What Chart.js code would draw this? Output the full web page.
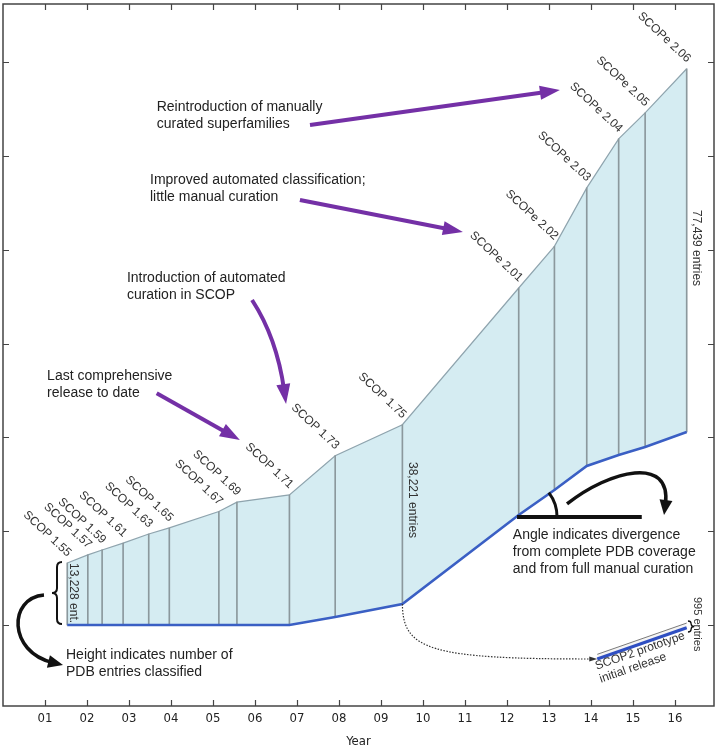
<!DOCTYPE html>
<html>
<head>
<meta charset="utf-8">
<script src="https://cdn.jsdelivr.net/npm/chart.js@4.4.0/dist/chart.umd.min.js"></script>
<style>
  html, body { margin: 0; padding: 0; background: #fff; }
  #wrap { width: 718px; height: 750px; position: relative; }
</style>
</head>
<body>
<div id="wrap"><canvas id="scopChart"></canvas></div>
<script>
// SCOP / SCOPe releases
const releaseNames = ["SCOP 1.55", "SCOP 1.57", "SCOP 1.59", "SCOP 1.61", "SCOP 1.63", "SCOP 1.65",
  "SCOP 1.67", "SCOP 1.69", "SCOP 1.71", "SCOP 1.73", "SCOP 1.75",
  "SCOPe 2.01", "SCOPe 2.02", "SCOPe 2.03", "SCOPe 2.04", "SCOPe 2.05", "SCOPe 2.06"];
const releaseYears = [1.53, 2.02, 2.36, 2.86, 3.47, 3.96, 5.14, 5.57, 6.82, 7.91, 9.51,
  12.28, 13.13, 13.90, 14.66, 15.29, 16.28];
const entryCounts = [13228, 14950, 16000, 17450, 19400, 20700, 24200, 26200, 27750, 34400, 38221,
  48400, 51950, 59300, 67400, 71250, 77439];
// lower edge: divergence from full PDB coverage
const divergence = [0, 0, 0, 0, 0, 0, 0, 0, 0, 1700, 4480, 23450, 28780, 33900, 36250, 37950, 41150];

// SCOP2 prototype
const scop2Years = [14.15, 16.28];
const scop2Base = [-7250, -580];
const scop2Entries = 995;

const yearTicks = [1, 2, 3, 4, 5, 6, 7, 8, 9, 10, 11, 12, 13, 14, 15, 16];
const entryTicks = [0, 20000, 40000, 60000, 80000, 100000, 120000];

// notes, anchored in (year, entries)
const notes = [
  { lines: ["Last comprehensive", "release to date"], at: [1.05, 53100] },
  { lines: ["Introduction of automated", "curation in SCOP"], at: [2.95, 73980] },
  { lines: ["Improved automated classification;", "little manual curation"], at: [3.5, 94870] },
  { lines: ["Reintroduction of manually", "curated superfamilies"], at: [3.66, 110500] },
  { lines: ["Height indicates number of", "PDB entries classified"], at: [1.5, -6400] },
  { lines: ["Angle indicates divergence", "from complete PDB coverage", "and from full manual curation"], at: [12.14, 19190] }
];
const purpleArrows = [
  { from: [3.66, 49400], to: [5.64, 39440] },
  { from: [5.93, 69290], ctrl: [6.52, 61200], to: [6.74, 47120] },
  { from: [7.07, 90610], to: [10.95, 83790] },
  { from: [7.31, 106600], to: [13.26, 114060] }
];

const topValues = releaseYears.map((x, i) => ({ x: x, y: divergence[i] + entryCounts[i] }));
const baseValues = releaseYears.map((x, i) => ({ x: x, y: divergence[i] }));
const releaseBars = releaseYears.map((x, i) => ({ x: x, y: [divergence[i], divergence[i] + entryCounts[i]] }));

const fontSans = '"Liberation Sans", Arial, sans-serif';
const fontAxis = '"DejaVu Sans Condensed", "DejaVu Sans", sans-serif';

function P(chart, pt) {
  return [chart.scales.x.getPixelForValue(pt[0]), chart.scales.y.getPixelForValue(pt[1])];
}

function arrowHead(ctx, tip, dir, len, wid) {
  const d = Math.hypot(dir[0], dir[1]);
  const ux = dir[0] / d, uy = dir[1] / d;
  const bx = tip[0] - ux * len, by = tip[1] - uy * len;
  ctx.beginPath();
  ctx.moveTo(tip[0], tip[1]);
  ctx.lineTo(bx - uy * wid / 2, by + ux * wid / 2);
  ctx.lineTo(bx + uy * wid / 2, by - ux * wid / 2);
  ctx.closePath();
  ctx.fill();
  return [tip[0] - ux * len * 0.7, tip[1] - uy * len * 0.7];
}

function brace(ctx, x0, y1, y2, w) {
  // x0 = flat side, w = signed depth toward the tip
  const ym = (y1 + y2) / 2, h = w / 2, r = Math.min(5, (y2 - y1) / 4);
  ctx.beginPath();
  ctx.moveTo(x0, y1);
  ctx.quadraticCurveTo(x0 + h, y1, x0 + h, y1 + r);
  ctx.lineTo(x0 + h, ym - r);
  ctx.quadraticCurveTo(x0 + h, ym, x0 + w, ym);
  ctx.quadraticCurveTo(x0 + h, ym, x0 + h, ym + r);
  ctx.lineTo(x0 + h, y2 - r);
  ctx.quadraticCurveTo(x0 + h, y2, x0, y2);
  ctx.stroke();
}

const annotate = {
  id: 'annotate',
  afterDraw(chart) {
    const ctx = chart.ctx, a = chart.chartArea;
    const xs = chart.scales.x, ys = chart.scales.y;
    ctx.save();

    // frame and inward ticks
    ctx.strokeStyle = '#444';
    ctx.lineWidth = 1.5;
    ctx.strokeRect(a.left, a.top, a.right - a.left, a.bottom - a.top);
    ctx.lineWidth = 1.2;
    ctx.beginPath();
    yearTicks.forEach(v => {
      const x = Math.round(xs.getPixelForValue(v)) + 0.5;
      ctx.moveTo(x, a.bottom); ctx.lineTo(x, a.bottom - 6);
      ctx.moveTo(x, a.top); ctx.lineTo(x, a.top + 6);
    });
    entryTicks.forEach(v => {
      const y = Math.round(ys.getPixelForValue(v)) + 0.5;
      ctx.moveTo(a.left, y); ctx.lineTo(a.left + 6, y);
      ctx.moveTo(a.right, y); ctx.lineTo(a.right - 6, y);
    });
    ctx.stroke();

    // release names, slanted
    ctx.fillStyle = '#333';
    ctx.font = '12px ' + fontSans;
    releaseNames.forEach((name, i) => {
      const p = P(chart, [releaseYears[i], divergence[i] + entryCounts[i]]);
      ctx.save();
      ctx.translate(p[0] - 2, p[1] - 4);
      ctx.rotate(43 * Math.PI / 180);
      ctx.textAlign = 'right';
      ctx.textBaseline = 'bottom';
      ctx.fillText(name, 0, 0);
      ctx.restore();
    });

    // entry counts, vertical
    const countLabels = [
      { text: entryCounts[0].toLocaleString('en-US') + ' ent.', at: [1.667, 13220], size: 12 },
      { text: entryCounts[10].toLocaleString('en-US') + ' entries', at: [9.74, 34750], size: 12 },
      { text: entryCounts[16].toLocaleString('en-US') + ' entries', at: [16.5, 88480], size: 12 },
      { text: scop2Entries + ' entries', at: [16.52, 5970], size: 11 }
    ];
    countLabels.forEach(l => {
      const p = P(chart, l.at);
      ctx.save();
      ctx.translate(p[0], p[1]);
      ctx.rotate(Math.PI / 2);
      ctx.font = l.size + 'px ' + fontSans;
      ctx.textAlign = 'left';
      ctx.textBaseline = 'middle';
      ctx.fillText(l.text, 0, 0);
      ctx.restore();
    });

    // SCOP2 label along the band
    const s0 = P(chart, [scop2Years[0], scop2Base[0]]), s1 = P(chart, [scop2Years[1], scop2Base[1]]);
    const ang = Math.atan2(s1[1] - s0[1], s1[0] - s0[0]);
    [["SCOP2 prototype", [15.17, -5540]], ["initial release", [15.0, -9170]]].forEach(t => {
      const p = P(chart, t[1]);
      ctx.save();
      ctx.translate(p[0], p[1]);
      ctx.rotate(ang);
      ctx.font = '12px ' + fontSans;
      ctx.textAlign = 'center';
      ctx.textBaseline = 'middle';
      ctx.fillText(t[0], 0, 0);
      ctx.restore();
    });

    // notes
    ctx.fillStyle = '#222';
    ctx.font = '14px ' + fontSans;
    ctx.textAlign = 'left';
    ctx.textBaseline = 'middle';
    notes.forEach(n => {
      const p = P(chart, n.at);
      n.lines.forEach((line, k) => ctx.fillText(line, p[0], p[1] + k * 17));
    });

    // purple arrows
    ctx.strokeStyle = '#7430a6';
    ctx.fillStyle = '#7430a6';
    ctx.lineWidth = 4;
    ctx.lineCap = 'butt';
    purpleArrows.forEach(ar => {
      const f = P(chart, ar.from), t = P(chart, ar.to);
      const c = ar.ctrl ? P(chart, ar.ctrl) : null;
      const dir = c ? [t[0] - c[0], t[1] - c[1]] : [t[0] - f[0], t[1] - f[1]];
      const end = arrowHead(ctx, t, dir, 20, 14);
      ctx.beginPath();
      ctx.moveTo(f[0], f[1]);
      if (c) ctx.quadraticCurveTo(c[0], c[1], end[0], end[1]);
      else ctx.lineTo(end[0], end[1]);
      ctx.stroke();
    });

    // black marks
    ctx.strokeStyle = '#111';
    ctx.fillStyle = '#111';
    ctx.lineWidth = 2;
    let b1 = P(chart, [1.405, 13432]), b2 = P(chart, [1.167, 213]);
    brace(ctx, b1[0], b1[1], b2[1], b2[0] - b1[0]);
    b1 = P(chart, [16.31, 853]); b2 = P(chart, [16.46, -1492]);
    ctx.lineWidth = 1.3;
    brace(ctx, b1[0], b1[1], b2[1], b2[0] - b1[0]);

    function curveArrow(pts, lw, hl, hw) {
      const q = pts.map(p => P(chart, p));
      const end = arrowHead(ctx, q[3], [q[3][0] - q[2][0], q[3][1] - q[2][1]], hl, hw);
      ctx.lineWidth = lw;
      ctx.beginPath();
      ctx.moveTo(q[0][0], q[0][1]);
      ctx.bezierCurveTo(q[1][0], q[1][1], q[2][0], q[2][1], end[0], end[1]);
      ctx.stroke();
    }
    curveArrow([[0.976, 6396], [0.119, 5756], [0.119, -5756], [1.429, -8528]], 3.5, 15, 13);
    curveArrow([[13.43, 25800], [14.45, 33050], [15.93, 36240], [15.74, 23450]], 3.5, 15, 13);

    // angle marker
    const h1 = P(chart, [12.24, 23030]), h2 = P(chart, [15.21, 23030]);
    ctx.lineWidth = 4;
    ctx.beginPath();
    ctx.moveTo(h1[0], h1[1]); ctx.lineTo(h2[0], h2[1]);
    ctx.stroke();
    const l0 = P(chart, [releaseYears[10], divergence[10]]), l1 = P(chart, [releaseYears[11], divergence[11]]);
    const lineAng = Math.atan2(l1[1] - l0[1], l1[0] - l0[0]);
    ctx.lineWidth = 3;
    ctx.beginPath();
    ctx.arc(h1[0], h1[1], 40, lineAng, 0);
    ctx.stroke();

    // dotted link to SCOP2
    const d0 = P(chart, [releaseYears[10], divergence[10]]);
    const d1 = P(chart, [9.52, -5330]), d2 = P(chart, [10.17, -7250]);
    const d3 = P(chart, [scop2Years[0], scop2Base[0]]);
    ctx.fillStyle = '#333';
    const dEnd = arrowHead(ctx, d3, [d3[0] - d2[0], d3[1] - d2[1]], 8, 5);
    ctx.strokeStyle = '#333';
    ctx.lineWidth = 1.2;
    ctx.setLineDash([1.5, 1.5]);
    ctx.beginPath();
    ctx.moveTo(d0[0], d0[1]);
    ctx.bezierCurveTo(d1[0], d1[1], d2[0], d2[1], dEnd[0], dEnd[1]);
    ctx.stroke();
    ctx.setLineDash([]);

    ctx.restore();
  }
};

new Chart(document.getElementById('scopChart'), {
  type: 'line',
  data: {
    datasets: [
      {
        label: 'Classified entries',
        data: topValues,
        borderColor: '#8fa4ae',
        borderWidth: 1.2,
        backgroundColor: '#d5ecf2',
        fill: 1,
        pointRadius: 0,
        order: 2
      },
      {
        label: 'Divergence',
        data: baseValues,
        borderColor: '#3a5fc4',
        borderWidth: 2.6,
        fill: false,
        pointRadius: 0,
        order: 0
      },
      {
        type: 'bar',
        label: 'Releases',
        data: releaseBars,
        backgroundColor: '#8b989d',
        barThickness: 1,
        grouped: false,
        order: 1
      },
      {
        label: 'SCOP2 entries',
        data: scop2Years.map((x, i) => ({ x: x, y: scop2Base[i] + scop2Entries })),
        borderColor: '#7a7a7a',
        borderWidth: 1,
        backgroundColor: '#f4f4f4',
        fill: 4,
        pointRadius: 0,
        order: 2
      },
      {
        label: 'SCOP2',
        data: scop2Years.map((x, i) => ({ x: x, y: scop2Base[i] })),
        borderColor: '#2f4fc2',
        borderWidth: 3.2,
        fill: false,
        pointRadius: 0,
        order: 0
      }
    ]
  },
  options: {
    responsive: true,
    maintainAspectRatio: false,
    animation: false,
    layout: { padding: { left: 3, right: 4, top: 4, bottom: 0 } },
    plugins: {
      legend: { display: false },
      tooltip: { enabled: false }
    },
    scales: {
      x: {
        type: 'linear',
        min: 0,
        max: 16.93,
        offset: false,
        grid: { display: false, drawTicks: false },
        border: { display: false },
        afterBuildTicks: axis => { axis.ticks = yearTicks.map(v => ({ value: v })); },
        ticks: {
          autoSkip: false,
          maxRotation: 0,
          padding: 6,
          color: '#222',
          font: { family: fontAxis, size: 13, lineHeight: 1 },
          callback: v => String(v).padStart(2, '0')
        },
        title: {
          display: true,
          text: 'Year',
          color: '#222',
          padding: { top: 4, bottom: 2 },
          font: { family: fontAxis, size: 13, lineHeight: 1 }
        }
      },
      y: {
        type: 'linear',
        display: false,
        min: -17270,
        max: 132400
      }
    }
  },
  plugins: [annotate]
});
</script>
</body>
</html>
